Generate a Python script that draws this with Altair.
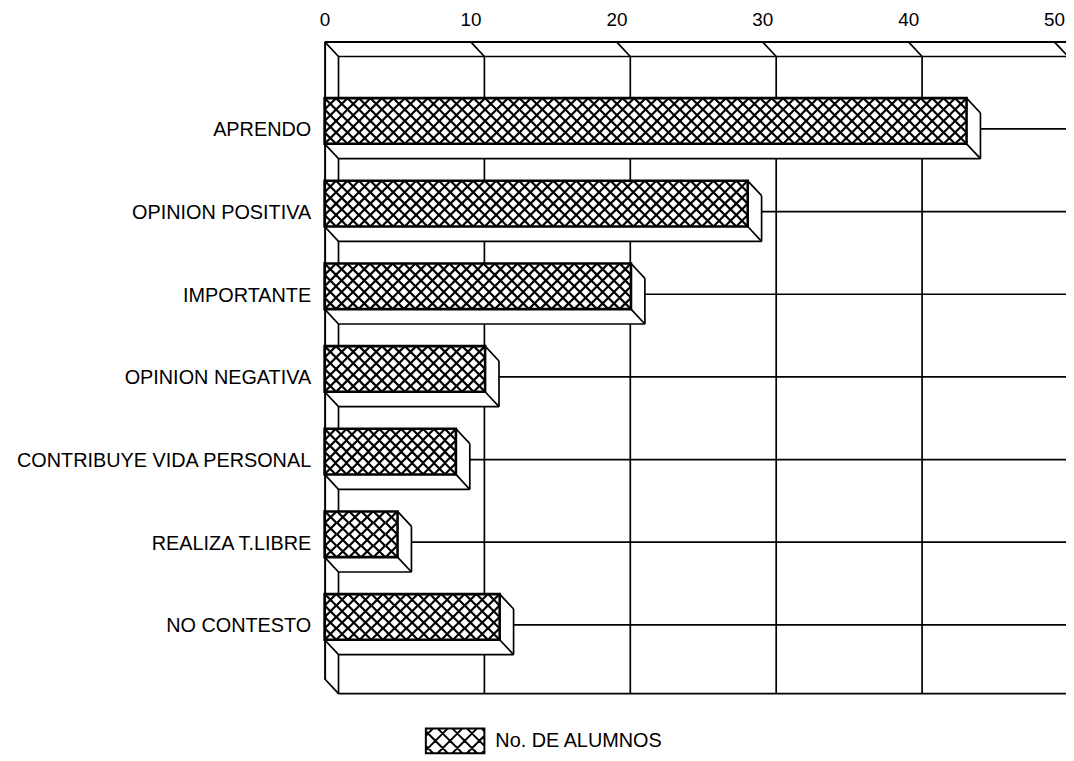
import altair as alt
import pandas as pd
import numpy as np

# ---------------- data ----------------
categorias = ["APRENDO", "OPINION POSITIVA", "IMPORTANTE", "OPINION NEGATIVA",
              "CONTRIBUYE VIDA PERSONAL", "REALIZA T.LIBRE", "NO CONTESTO"]
alumnos = [44, 29, 21, 11, 9, 5, 12]
ticks = [0, 10, 20, 30, 40, 50]
serie = "No. DE ALUMNOS"

# ---------------- layout / style ----------------
PX_PER_UNIT = 14.7
W, H = 747, 642
X_MAX = W / PX_PER_UNIT
ROW_PX = 83.28
Y_TOP = -80 / ROW_PX
Y_BOT = Y_TOP + H / ROW_PX
DX, DY = 14, 15          # 3-D depth offset (px)
HALF = 23                # half bar thickness (px)
HATCH = 11.5             # hatch cell (px)
LINE = "black"
FONT = "Liberation Sans"
LW = 1.7

bars = pd.DataFrame({"cat": categorias, "row": list(range(len(categorias))),
                     "valor": alumnos, "serie": serie})
grid = pd.DataFrame({"tick": ticks})
one = pd.DataFrame({"k": [0]})

hatch_rows = []
for i, v in enumerate(alumnos):
    n = max(1, int(round(v * PX_PER_UNIT / HATCH)))
    step = v / n
    for j in range(n):
        hatch_rows.append({"row": i, "hx": (j + 0.5) * step})
hatch = pd.DataFrame(hatch_rows)


def swatch_path(hw=1.0, hh=0.424, step=0.5):
    parts = [f"M{-hw},{-hh}H{hw}V{hh}H{-hw}Z"]
    for c in np.arange(-hw - hh + step / 2, hw + hh, step):
        x0, x1 = max(-hw, -hh + c), min(hw, hh + c)
        if x1 > x0:
            parts.append(f"M{x0:.3f},{x0 - c:.3f}L{x1:.3f},{x1 - c:.3f}")
        x0, x1 = max(-hw, c - hh), min(hw, c + hh)
        if x1 > x0:
            parts.append(f"M{x0:.3f},{c - x0:.3f}L{x1:.3f},{c - x1:.3f}")
    return " ".join(parts)


X_SHAPE = "M-1,-1L1,1M-1,1L1,-1"

xs = alt.Scale(domain=[0, X_MAX], nice=False, zero=False)
ys = alt.Scale(domain=[Y_TOP, Y_BOT], reverse=True, nice=False, zero=False)

x_axis = alt.Axis(orient="top", values=ticks, format="d", title=None, grid=False,
                  ticks=False, tickSize=0, domain=True, domainColor=LINE, domainWidth=2,
                  labelFont=FONT, labelFontSize=19, labelColor=LINE,
                  labelBaseline="alphabetic", labelPadding=16, labelFlush=False,
                  labelOverlap=False, labelBound=False, zindex=1)
label_expr = "[" + ",".join(f"'{c}'" for c in categorias) + "][datum.value]"
y_axis = alt.Axis(orient="left", values=list(range(len(categorias))), labelExpr=label_expr,
                  title=None, grid=False, ticks=False, tickSize=0, domain=True,
                  domainColor=LINE, domainWidth=2, labelFont=FONT, labelFontSize=20,
                  labelColor=LINE, labelBaseline="alphabetic", labelOffset=15,
                  labelPadding=14, labelOverlap=False, labelLimit=400, zindex=1)


def X(field):
    return alt.X(field, type="quantitative", scale=xs, axis=x_axis)


def Y(field):
    return alt.Y(field, type="quantitative", scale=ys, axis=y_axis)


def base(df):
    # helper fields: zero baseline, right end of the x domain, top/bottom of y domain
    return alt.Chart(df).transform_calculate(
        cero="0", xmax=str(X_MAX), ytop=str(Y_TOP), ybot=str(Y_BOT))


rule = dict(color=LINE, strokeWidth=LW)

# back-plane vertical grid
back_vgrid = base(grid).mark_rule(xOffset=DX, yOffset=DY, y2Offset=DY, **rule).encode(
    x=X("tick"), y=Y("ytop"), y2="ybot")
# back-plane top and bottom edges
back_top = base(one).mark_rule(xOffset=DX, yOffset=DY, **rule).encode(
    x=X("cero"), x2="xmax", y=Y("ytop"))
back_bot = base(one).mark_rule(xOffset=DX, yOffset=DY, **rule).encode(
    x=X("cero"), x2="xmax", y=Y("ybot"))
# row lines on back plane
row_lines = base(bars).mark_rule(xOffset=DX, yOffset=8, **rule).encode(
    x=X("cero"), x2="xmax", y=Y("row"))
# top slants (ceiling)
top_slants = base(grid).mark_rule(x2Offset=DX, y2Offset=DY, **rule).encode(
    x=X("tick"), x2="tick", y=Y("ytop"), y2="ytop")
# bottom-left slant (floor corner)
bot_slant = base(one).mark_rule(x2Offset=DX, y2Offset=DY, **rule).encode(
    x=X("cero"), x2="cero", y=Y("ybot"), y2="ybot")

# bar depth: white fill covering what is behind
depth_fill = base(bars).mark_rect(fill="white", strokeWidth=0, x2Offset=DX,
                                  yOffset=-HALF + DY, y2Offset=HALF + DY).encode(
    x=X("cero"), x2="valor", y=Y("row"), y2="row")
# bar depth edges
edge_right = base(bars).mark_rule(xOffset=DX, yOffset=-HALF + DY, y2Offset=HALF + DY, **rule).encode(
    x=X("valor"), y=Y("row"), y2="row")
edge_bottom = base(bars).mark_rule(xOffset=DX, x2Offset=DX, yOffset=HALF + DY, **rule).encode(
    x=X("cero"), x2="valor", y=Y("row"))
sl_tr = base(bars).mark_rule(x2Offset=DX, yOffset=-HALF, y2Offset=-HALF + DY, **rule).encode(
    x=X("valor"), x2="valor", y=Y("row"), y2="row")
sl_br = base(bars).mark_rule(x2Offset=DX, yOffset=HALF, y2Offset=HALF + DY, **rule).encode(
    x=X("valor"), x2="valor", y=Y("row"), y2="row")
sl_bl = base(bars).mark_rule(x2Offset=DX, yOffset=HALF, y2Offset=HALF + DY, **rule).encode(
    x=X("cero"), x2="cero", y=Y("row"), y2="row")

# bar front face (with legend)
front = base(bars).mark_rect(stroke=LINE, strokeWidth=2.6, yOffset=-HALF, y2Offset=HALF).encode(
    x=X("cero"), x2="valor", y=Y("row"), y2="row",
    fill=alt.Fill("serie:N", scale=alt.Scale(range=["white"]),
                  legend=alt.Legend(title=None, orient="none", legendX=101, legendY=674,
                                    symbolType=swatch_path(), symbolSize=59 * 59,
                                    symbolStrokeColor=LINE, symbolStrokeWidth=2,
                                    labelFont=FONT, labelFontSize=20, labelColor=LINE,
                                    labelOffset=10, labelLimit=400, padding=0)))

# cross-hatch texture on front faces
hatch_layers = []
for off in [-1.5 * HATCH, -0.5 * HATCH, 0.5 * HATCH, 1.5 * HATCH]:
    hatch_layers.append(
        alt.Chart(hatch).mark_point(shape=X_SHAPE, size=HATCH * HATCH, filled=False,
                                    color=LINE, strokeWidth=2.2, opacity=1, yOffset=off).encode(
            x=X("hx"), y=Y("row")))

chart = alt.layer(back_vgrid, back_top, back_bot, row_lines, top_slants, bot_slant,
                  depth_fill, edge_right, edge_bottom, sl_tr, sl_br, sl_bl,
                  front, *hatch_layers).properties(
    width=W, height=H,
    padding={"left": 319, "top": 31, "right": 0, "bottom": 78},
    autosize=alt.AutoSizeParams(type="none"),
    background="white",
).configure_view(strokeWidth=0)

chart.save("out.html", embed_options={"renderer": "svg", "actions": False})
